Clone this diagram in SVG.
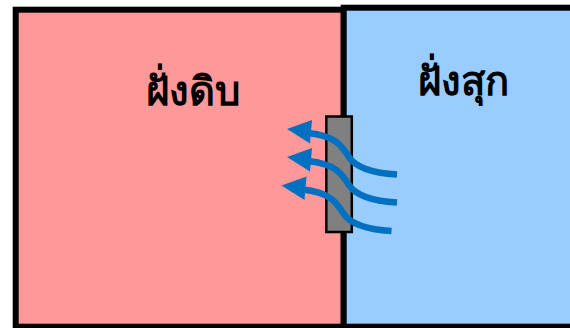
<svg xmlns="http://www.w3.org/2000/svg" width="570" height="328" viewBox="0 0 570 328">
<style>
.side{stroke:#000;stroke-width:6}
.label{font-family:"Noto Sans","DejaVu Sans",sans-serif;font-weight:bold;font-size:40px;fill:#000;text-anchor:middle}
.flow{fill:none;stroke:#0070C0;stroke-width:6.5}
.head{fill:#0070C0}
</style>
<rect width="570" height="328" fill="#fff"/>
<g id="raw-side">
<rect class="side" x="15.7" y="9.7" width="328" height="317" fill="#FF9999"/>
<text class="label" x="192.5" y="105">ฝั่งดิบ</text>
</g>
<g id="cooked-side">
<rect class="side" x="343.7" y="7.7" width="240" height="319" fill="#99CCFF"/>
<text class="label" x="463" y="95">ฝั่งสุก</text>
</g>
<g id="barrier">
<rect x="326.3" y="116.5" width="25.5" height="115.5" fill="#808080" stroke="#000" stroke-width="2.5"/>
</g>
<g id="connectors">
<g id="flow1">
<path class="flow" d="M397,174.5 C372,173 356,168 349,157 C342,146 336,136 308,133"/>
<polygon class="head" points="287,129 312,120 310,143.5"/>
</g>
<g id="flow2" transform="translate(0,28)">
<path class="flow" d="M397,174.5 C372,173 356,168 349,157 C342,146 336,136 308,133"/>
<polygon class="head" points="287,129 312,120 310,143.5"/>
</g>
<g id="flow3" transform="translate(-5.5,56.5)">
<path class="flow" d="M397,174.5 C372,173 356,168 349,157 C342,146 336,136 308,133"/>
<polygon class="head" points="287,129 312,120 310,143.5"/>
</g>
</g>
</svg>
